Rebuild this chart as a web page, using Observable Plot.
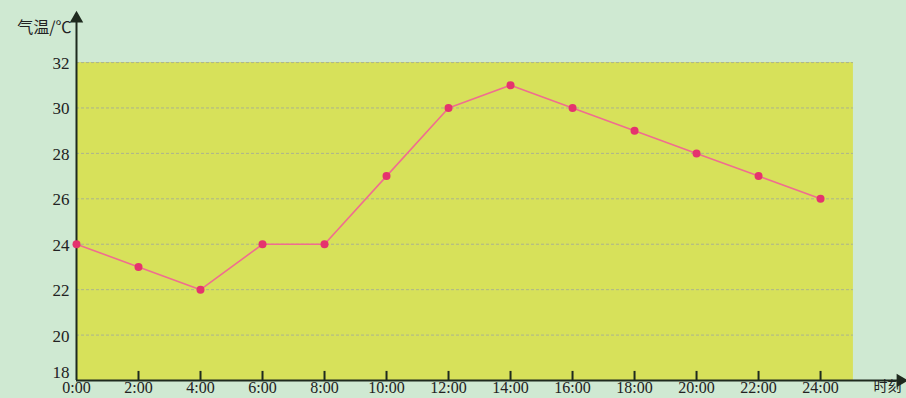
<!DOCTYPE html>
<html>
<head>
<meta charset="utf-8">
<script src="https://cdn.jsdelivr.net/npm/d3@7"></script>
<script src="https://cdn.jsdelivr.net/npm/@observablehq/plot@0.6"></script>
<style>
  html, body { margin: 0; padding: 0; background: #cfe9d2; }
  #chart svg { display: block; }
</style>
</head>
<body>
<div id="chart"></div>
<script>
// Data
const hours = [0, 2, 4, 6, 8, 10, 12, 14, 16, 18, 20, 22, 24];
const temps = [24, 23, 22, 24, 24, 27, 30, 31, 30, 29, 28, 27, 26];
const yTicks = [20, 22, 24, 26, 28, 30, 32];
const yBottomTick = [18];
const gridTicks = [20, 22, 24, 26, 28, 30, 32];
const xTickLabels = hours.map(h => `${h}:00`);
const yTitle = "气温/℃";
const xTitle = "时刻";

// Extents (data units)
const yMin = 18, yTop = 32, yAxisEnd = 34.16;
const xMin = 0, xAreaEnd = 25.06, xAxisEnd = 26.74;

const data = hours.map((h, i) => ({hour: h, temp: temps[i]}));
const serif = "'Liberation Serif', 'DejaVu Serif', serif";
const cjk = "'Noto Sans CJK SC', sans-serif";
const ink = "#1e2a1e";

const chart = Plot.plot({
  width: 906,
  height: 398,
  marginLeft: 76,
  marginRight: 1,
  marginTop: 13,
  marginBottom: 18,
  style: {background: "transparent", fontFamily: serif},
  x: {domain: [xMin, xAxisEnd]},
  y: {domain: [yMin, yAxisEnd]},
  marks: [
    // yellow plot area
    Plot.rect([{x1: xMin, x2: xAreaEnd, y1: yMin, y2: yTop}], {x1: "x1", x2: "x2", y1: "y1", y2: "y2", fill: "#d7e15a"}),
    // dashed gridlines
    Plot.ruleY(gridTicks, {x1: xMin, x2: xAreaEnd, stroke: "#a3ab98", strokeWidth: 1, strokeDasharray: "3,2", strokeOpacity: 0.85}),
    // inward x ticks
    Plot.ruleX(hours.slice(1), {y1: yMin, y2: yMin + 0.4, stroke: ink, strokeWidth: 2}),
    // axes
    Plot.ruleY([yMin], {x1: xMin, x2: xAxisEnd - 0.25, stroke: ink, strokeWidth: 2}),
    Plot.ruleX([xMin], {y1: yMin, y2: yAxisEnd - 0.35, stroke: ink, strokeWidth: 2}),
    Plot.dot([{x: xMin, y: yAxisEnd}], {x: "x", y: "y", symbol: "triangle", r: 5, fill: ink, dy: 5}),
    Plot.dot([{x: xAxisEnd, y: yMin}], {x: "x", y: "y", symbol: "triangle", r: 5, fill: ink, rotate: 90, dx: -5}),
    // axis labels
    Plot.axisY({ticks: yTicks, tickSize: 0, tickPadding: 7, fontSize: 17, fontFamily: serif, color: "#222", dy: 1}),
    Plot.axisY({ticks: yBottomTick, tickSize: 0, tickPadding: 7, fontSize: 17, fontFamily: serif, color: "#222", dy: -8}),
    Plot.axisX({ticks: hours, tickFormat: d => xTickLabels[hours.indexOf(d)], tickSize: 0, tickPadding: 1, fontSize: 16, fontFamily: serif, color: "#222"}),
    // line and points
    Plot.line(data, {x: "hour", y: "temp", stroke: "#f06d90", strokeWidth: 1.6}),
    Plot.dot(data, {x: "hour", y: "temp", r: 4, fill: "#e5336e"}),
    // titles
    Plot.text([yTitle], {frameAnchor: "top-left", dx: -5, dy: 8, textAnchor: "end", fontSize: 16, fontFamily: cjk, fill: "#222", letterSpacing: "1.5px"}),
    Plot.text([xTitle], {frameAnchor: "bottom-right", dx: -4, dy: 10, textAnchor: "end", fontSize: 14, fontFamily: cjk, fill: "#222"})
  ]
});
document.getElementById("chart").appendChild(chart);
</script>
</body>
</html>
